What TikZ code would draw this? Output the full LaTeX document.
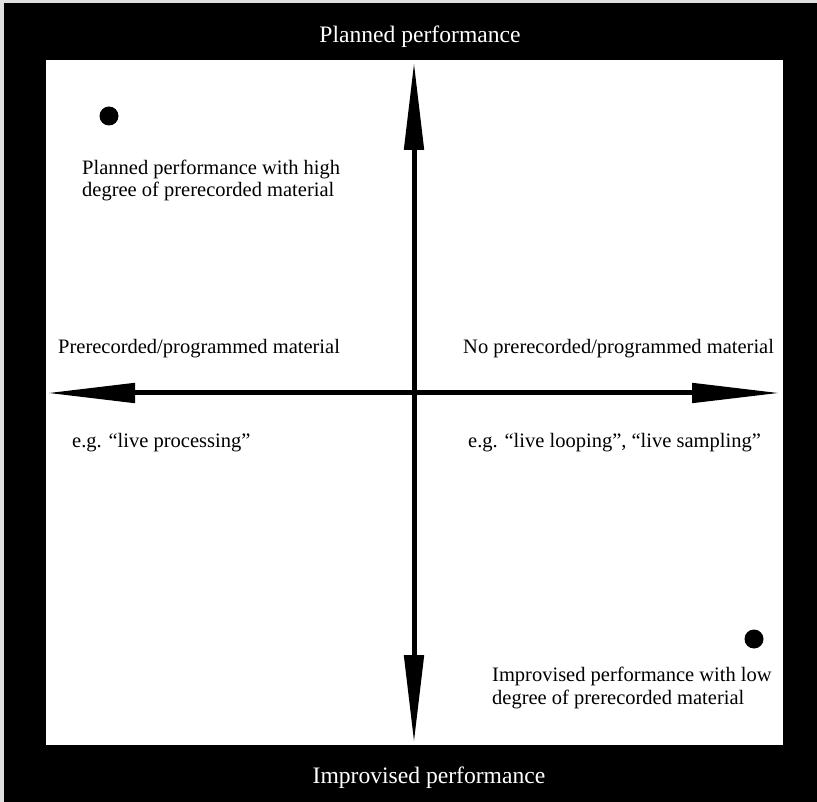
\documentclass[tikz,border=0pt]{standalone}
\usepackage{fontspec}
\setmainfont{Liberation Serif}
\usetikzlibrary{arrows.meta}
\tikzset{
  body/.style={font=\fontsize{20.5}{22.5}\selectfont, inner sep=0pt, align=left, text=black},
  header/.style={font=\fontsize{23.6}{26}\selectfont, inner sep=0pt, text=white},
  dot/.style={circle, fill=black, inner sep=0pt, minimum size=19pt},
  axis/.style={line width=5pt, black, {Triangle[length=88pt,width=19pt]}-{Triangle[length=88pt,width=19pt]}}
}
\begin{document}
\begin{tikzpicture}[x=1pt,y=-1pt]
\useasboundingbox (0,0) rectangle (817,802);
\fill[black] (0,0) rectangle (817,802);
\fill[black!12] (0,0) rectangle (817,3);
\fill[black!12] (0,0) rectangle (4,802);
\fill[white] (46,60) rectangle (783,745);

\node[header, anchor=base] (top) at (420,43) {Planned performance};
\node[header, anchor=base] (bottom) at (429,783) {Improvised performance};

\coordinate (L) at (47,393);
\coordinate (R) at (780,393);
\coordinate (T) at (414,62);
\coordinate (B) at (414,743);
\draw[axis] (L) -- (R);
\draw[axis] (T) -- (B);

\node[dot] (d1) at (109,116) {};
\node[dot] (d2) at (754,639) {};

\node[body, anchor=base west] (pl) at (82,197) {Planned performance with high\\degree of prerecorded material};
\node[body, anchor=base west] (im) at (492,704) {Improvised performance with low\\degree of prerecorded material};
\node[body, anchor=base west] (pre) at (58,354) {Prerecorded/programmed material};
\node[body, anchor=base west] (nopre) at (463,354) {No prerecorded/programmed material};
\node[body, anchor=base west] (eg1) at (72,447) {e.g. “live processing”};
\node[body, anchor=base west] (eg2) at (468,447) {e.g. “live looping”, “live sampling”};
\end{tikzpicture}
\end{document}
